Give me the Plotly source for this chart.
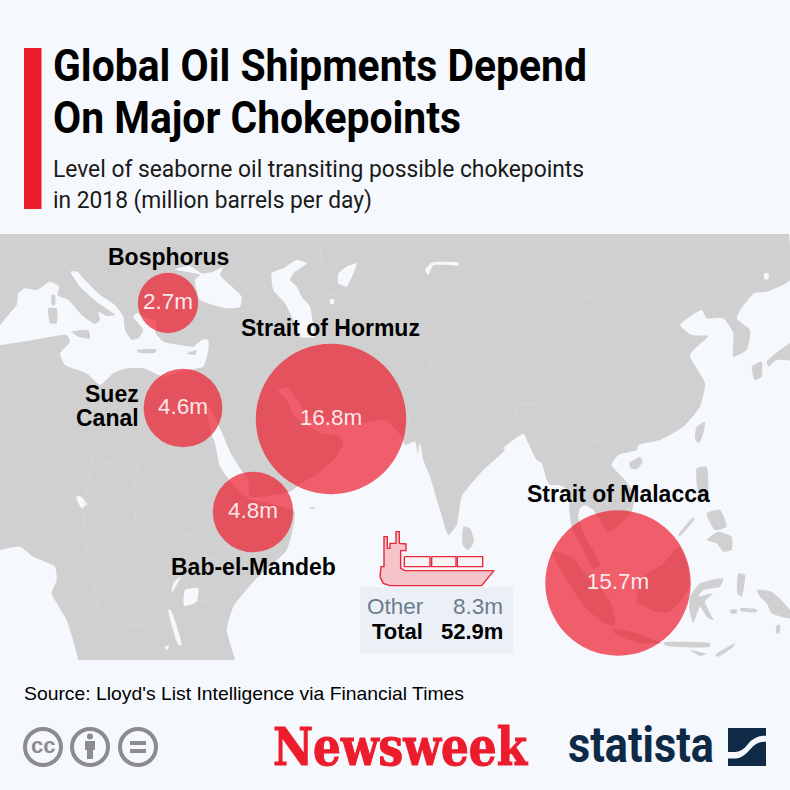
import json

import plotly.graph_objects as go

# data
chokepoints = ["Bosphorus", "Suez Canal", "Strait of Hormuz", "Bab-el-Mandeb", "Strait of Malacca"]
barrels = [2.7, 4.6, 16.8, 4.8, 15.7]
other = 8.3
total = 52.9

# where the bubbles sit on the map, in page pixels
bubble_x = [168, 183, 331, 253, 618]
bubble_y = [303, 408, 419, 512, 583]

BG = "#F5F8FC"
LAND = "#D0D0D0"
BORDER = "#D9D9D9"
RED = "#ED1C2C"
NAVY = "#0F2A47"
GREY = "#8C8C8C"
SANS = "Liberation Sans"
TITLE = "Roboto"

# no condensed Roboto here, so these lines get squeezed to their width in the page
fitted_widths = {
    "Global Oil Shipments Depend": 534,
    "On Major Chokepoints": 408,
    "Level of seaborne oil transiting possible chokepoints": 531,
    "in 2018 (million barrels per day)": 319,
    "Source: Lloyd's List Intelligence via Financial Times": 440,
    "Newsweek": 254,
    "statista": 146,
}


def crop(points, x0, y0):
    # the outlines were traced on 3x crops of the map
    return [(x0 + x / 3, y0 + y / 3) for x, y in points]


def rings(polygons):
    xs, ys = [], []
    for poly in polygons:
        xs += [p[0] for p in poly] + [poly[0][0], None]
        ys += [p[1] for p in poly] + [poly[0][1], None]
    return xs, ys


# background map
ocean = (
    crop([(705, 630), (680, 540), (700, 470), (770, 385), (860, 300)], 0, 450)
    + crop(
        [(268, 515), (190, 490), (135, 478), (100, 450), (70, 415), (45, 380), (30, 310), (18, 280), (5, 200),
         (12, 200), (50, 275), (75, 335), (105, 385), (130, 420), (135, 470), (255, 455), (290, 430), (340, 400),
         (385, 360), (415, 312), (405, 290), (350, 280), (290, 245), (265, 225), (245, 180), (220, 150), (245, 140),
         (290, 200), (320, 240), (400, 245), (470, 250), (540, 240), (590, 290), (600, 315), (630, 305), (638, 340),
         (645, 310), (655, 360)],
        205, 340,
    )
    + crop([(240, 80), (270, 180), (295, 255), (320, 225), (335, 140), (400, 60), (465, 0)], 350, 450)
    + crop([(340, 655), (400, 612), (415, 640), (440, 690)], 390, 230)
    + crop(
        [(35, 100), (50, 150), (60, 165), (85, 165), (115, 180), (118, 240), (125, 290), (150, 340), (190, 418),
         (212, 405), (195, 370), (165, 320), (145, 265), (150, 235), (165, 225), (190, 240), (235, 305), (300, 255),
         (315, 195), (285, 150), (245, 105), (265, 75), (320, 60), (325, 45)],
        530, 430,
    )
    + crop(
        [(810, 630), (880, 590), (930, 530), (945, 460), (900, 375), (955, 318), (905, 315), (870, 285), (935, 240),
         (950, 265), (1000, 265), (1030, 310), (1030, 380), (1070, 360), (1080, 300), (1040, 265), (1090, 190),
         (1130, 185), (1200, 150)],
        390, 230,
    )
    + [(790, 200), (830, 200), (830, 700), (235, 700)]
)
gulf_of_guinea = crop(
    [(-60, 300), (0, 300), (60, 290), (100, 320), (165, 350), (170, 390), (155, 430), (200, 510), (235, 630), (240, 700), (-60, 700)], 0, 450
)
mediterranean = crop(
    [(-60, 300), (0, 285), (20, 260), (50, 225), (55, 190), (75, 175), (110, 180), (150, 155), (178, 170), (172, 195), (205, 210),
     (245, 255), (285, 282), (300, 270), (295, 245), (320, 258), (345, 255), (290, 215), (240, 170), (212, 125),
     (232, 125), (255, 150), (300, 195), (345, 225), (370, 260), (375, 300), (395, 330), (415, 325), (430, 300),
     (400, 260), (410, 250), (440, 265), (470, 275), (465, 305), (490, 335), (540, 345), (580, 350), (605, 330),
     (625, 330), (625, 360), (610, 410), (560, 420), (490, 440), (430, 415), (380, 415), (340, 430), (300, 465),
     (260, 430), (195, 405), (180, 370), (210, 335), (200, 315), (100, 330), (0, 345), (-60, 345)],
    0, 230,
)
black_sea = crop(
    [(585, 150), (600, 135), (525, 118), (570, 108), (605, 130), (640, 125), (670, 110), (660, 135), (690, 165),
     (725, 200), (720, 230), (680, 235), (640, 225), (600, 210), (590, 180)],
    0, 230,
)
caspian = crop(
    [(815, 130), (850, 115), (890, 90), (920, 100), (880, 130), (870, 150), (890, 170), (905, 200), (930, 230),
     (940, 290), (945, 320), (900, 320), (880, 270), (855, 220), (820, 180)],
    0, 230,
)
lakes = [
    crop([(1015, 130), (1040, 110), (1070, 100), (1060, 130), (1040, 170), (1015, 160)], 0, 230),
    crop([(990, 208), (1002, 208), (1002, 222), (990, 222)], 0, 230),
    crop([(105, 120), (125, 98), (205, 98), (205, 106), (130, 106), (115, 135)], 390, 230),
    crop([(1122, 130), (1136, 130), (1134, 148), (1124, 148)], 390, 230),
    crop([(228, 140), (240, 138), (262, 162), (245, 175)], 0, 450),
    crop([(555, 420), (595, 415), (590, 455), (552, 468)], 0, 450),
    crop([(505, 480), (512, 480), (545, 585), (535, 585)], 0, 450),
    crop([(520, 400), (545, 378), (535, 395), (515, 430)], 0, 450),
    crop([(495, 590), (508, 585), (500, 602)], 0, 450),
]
islands = [
    crop([(145, 235), (170, 235), (170, 280), (150, 280)], 0, 230),
    crop([(155, 195), (165, 195), (165, 225), (155, 225)], 0, 230),
    crop([(215, 305), (265, 300), (270, 325), (235, 320)], 0, 230),
    crop([(410, 360), (470, 358), (465, 368), (415, 368)], 0, 230),
    crop([(560, 370), (590, 360), (585, 375)], 0, 230),
    crop([(925, 172), (945, 172), (940, 178)], 0, 450),
    crop([(340, 230), (360, 235), (372, 275), (355, 300), (338, 285)], 350, 450),
    crop([(65, 365), (125, 380), (175, 440), (240, 510), (255, 585), (215, 575), (160, 525), (110, 450)], 530, 430),
    crop([(245, 595), (320, 610), (395, 640), (330, 640), (260, 615)], 530, 430),
    crop([(320, 520), (330, 450), (400, 400), (445, 350), (470, 395), (480, 470), (420, 545), (370, 545), (340, 525)],
         530, 430),
    crop([(480, 500), (510, 460), (580, 445), (570, 470), (520, 480), (505, 500), (550, 490), (525, 515), (550, 570),
          (530, 560), (510, 530), (490, 580), (478, 540)], 530, 430),
    crop([(530, 330), (565, 305), (605, 320), (605, 360), (580, 365), (560, 340)], 530, 430),
    crop([(500, 115), (530, 110), (535, 170), (525, 210), (505, 190)], 530, 430),
    crop([(530, 250), (570, 240), (590, 290), (555, 300)], 530, 430),
    crop([(445, 315), (490, 262), (493, 268), (450, 318)], 530, 430),
    crop([(297, 100), (330, 80), (338, 95), (320, 118), (302, 115)], 530, 430),
    crop([(680, 480), (725, 485), (780, 540), (780, 565), (725, 550), (710, 520), (690, 500)], 530, 430),
    crop([(600, 540), (620, 538), (620, 550), (602, 550)], 530, 430),
    crop([(630, 535), (680, 538), (680, 546), (632, 543)], 530, 430),
    crop([(625, 430), (645, 435), (635, 500), (622, 490)], 530, 430),
    crop([(400, 638), (540, 640), (540, 650), (410, 648)], 530, 430),
    crop([(555, 675), (615, 640), (610, 650), (565, 680)], 530, 430),
    crop([(480, 660), (530, 672), (510, 678)], 530, 430),
    crop([(740, 585), (750, 585), (748, 610), (738, 610)], 530, 430),
    crop([(505, 0), (522, 0), (510, 35)], 530, 430),
    crop([(915, 625), (920, 590), (945, 575), (940, 610), (925, 640)], 390, 230),
    crop([(1085, 410), (1115, 395), (1115, 440), (1095, 450)], 390, 230),
    crop([(1130, 395), (1200, 340), (1230, 340), (1230, 390), (1160, 390), (1135, 410)], 390, 230),
]
borders = [
    crop([(330, 50), (400, 100), (410, 130), (500, 180), (650, 215), (770, 160), (905, 95), (840, 60), (850, 20)], 390, 230),
    crop([(230, 140), (230, 190), (130, 230), (60, 190), (20, 240), (90, 230), (130, 310)], 390, 230),
    crop([(120, 380), (180, 350), (220, 470), (330, 520), (430, 520), (490, 490), (540, 560)], 390, 230),
    crop([(430, 520), (380, 530), (370, 610), (400, 610)], 390, 230),
    crop([(540, 560), (590, 630), (670, 640), (700, 650)], 390, 230),
    crop([(1000, 265), (1040, 250), (1090, 190)], 390, 230),
    crop([(120, 380), (130, 450), (60, 540), (50, 620)], 390, 230),
    crop([(0, 95), (150, 60), (400, 30)], 0, 450),
    crop([(100, 0), (70, 90), (0, 160)], 0, 450),
    crop([(280, 0), (250, 190), (260, 300), (330, 280), (410, 240), (600, 260)], 0, 450),
    crop([(420, 0), (400, 130), (410, 240)], 0, 450),
    crop([(260, 300), (300, 400), (480, 340), (700, 320)], 0, 450),
    crop([(170, 380), (280, 370), (300, 530), (500, 520)], 0, 450),
    crop([(590, 450), (700, 470)], 0, 450),
    crop([(640, 360), (760, 330), (800, 250), (720, 240)], 0, 230),
    crop([(960, 30), (970, 190), (1200, 230)], 0, 230),
    crop([(60, 100), (120, 100), (300, 40)], 0, 230),
]

# ship icon, traced on a 3x crop
ship_hull = crop(
    [(30, 170), (33, 140), (42, 140), (42, 50), (52, 50), (52, 85), (60, 85), (60, 70), (78, 70), (78, 35), (88, 35),
     (88, 70), (108, 72), (108, 92), (92, 92), (92, 145), (105, 152), (372, 152), (335, 197), (60, 197), (40, 190)],
    370, 520,
)
ship_boxes = [
    crop([(103, 110), (180, 110), (180, 140), (103, 140)], 370, 520),
    crop([(185, 110), (258, 110), (258, 140), (185, 140)], 370, 520),
    crop([(262, 110), (338, 110), (338, 140), (262, 140)], 370, 520),
]

fig = go.Figure()

smooth = {"width": 0, "shape": "spline", "smoothing": 0.5}
sea_x, sea_y = rings([ocean, gulf_of_guinea, mediterranean, black_sea, caspian] + lakes)
fig.add_trace(go.Scatter(x=sea_x, y=sea_y, mode="lines", line=smooth, fill="toself", fillcolor=BG))

isl_x, isl_y = rings(islands)
fig.add_trace(go.Scatter(x=isl_x, y=isl_y, mode="lines", line=smooth, fill="toself", fillcolor=LAND))

bor_x, bor_y = [], []
for line in borders:
    bor_x += [p[0] for p in line] + [None]
    bor_y += [p[1] for p in line] + [None]
fig.add_trace(go.Scatter(x=bor_x, y=bor_y, mode="lines", line={"color": BORDER, "width": 0.7}))

# bubble area follows the value
fig.add_trace(
    go.Scatter(
        x=bubble_x,
        y=bubble_y,
        mode="markers+text",
        marker={
            "size": [36.7 * v**0.5 for v in barrels],
            "sizemode": "diameter",
            "color": "rgba(236,28,44,0.7)",
            "opacity": 1,
            "line": {"width": 0},
        },
        text=[f"{v}m" for v in barrels],
        textposition="middle center",
        textfont={"family": SANS, "size": 22.5, "color": "rgba(255,255,255,0.88)"},
    )
)

hull_x, hull_y = rings([ship_hull])
fig.add_trace(
    go.Scatter(x=hull_x, y=hull_y, mode="lines", fill="toself", fillcolor="#F5C3C8", line={"color": "#E8293B", "width": 1.4})
)
box_x, box_y = rings(ship_boxes)
fig.add_trace(
    go.Scatter(x=box_x, y=box_y, mode="lines", fill="toself", fillcolor="#F8F4F6", line={"color": "#E8293B", "width": 1.4})
)

shapes = [
    # map band, the masks keep the sea inside it
    {"type": "rect", "x0": 0, "x1": 790, "y0": 234, "y1": 660, "fillcolor": LAND, "line_width": 0, "layer": "below"},
    {"type": "rect", "x0": 0, "x1": 790, "y0": 660, "y1": 790, "fillcolor": BG, "line_width": 0},
    # title bar
    {"type": "rect", "x0": 24, "x1": 41.5, "y0": 48, "y1": 209, "fillcolor": RED, "line_width": 0},
    # other / total box
    {"type": "rect", "x0": 360, "x1": 513, "y0": 587, "y1": 653, "fillcolor": "#EBF0F7", "line_width": 0},
    # cc icons
    {"type": "circle", "x0": 25, "x1": 61, "y0": 729, "y1": 765, "line": {"color": GREY, "width": 4}},
    {"type": "circle", "x0": 72, "x1": 108, "y0": 729, "y1": 765, "line": {"color": GREY, "width": 4}},
    {"type": "circle", "x0": 120, "x1": 156, "y0": 729, "y1": 765, "line": {"color": GREY, "width": 4}},
    {"type": "circle", "x0": 87, "x1": 93, "y0": 733.5, "y1": 739.5, "fillcolor": GREY, "line_width": 0},
    {"type": "rect", "x0": 85, "x1": 95, "y0": 741, "y1": 750, "fillcolor": GREY, "line_width": 0},
    {"type": "rect", "x0": 87, "x1": 93, "y0": 750, "y1": 759, "fillcolor": GREY, "line_width": 0},
    {"type": "rect", "x0": 130, "x1": 146, "y0": 741, "y1": 745, "fillcolor": GREY, "line_width": 0},
    {"type": "rect", "x0": 130, "x1": 146, "y0": 749, "y1": 753, "fillcolor": GREY, "line_width": 0},
    # statista mark
    {
        "type": "path",
        "path": "M728,728 L766,728 L766,735.7 Q755,735 748,744 Q742,752 735,752 L728,752 Z",
        "fillcolor": NAVY,
        "line_width": 0,
    },
    {
        "type": "path",
        "path": "M766,741.7 Q757,741 751,748.5 Q743,758 736,758.5 L728,758.5 L728,766 L766,766 Z",
        "fillcolor": NAVY,
        "line_width": 0,
    },
]


def label(text, x, y, size, color="#000000", family=SANS, bold=False, anchor="center", align="center"):
    return {
        "text": f"<b>{text}</b>" if bold else text,
        "x": x,
        "y": y,
        "xref": "x",
        "yref": "y",
        "showarrow": False,
        "xanchor": anchor,
        "yanchor": "middle",
        "align": align,
        "font": {"family": family, "size": size, "color": color},
    }


annotations = [
    label("Global Oil Shipments Depend", 51, 65, 45, family=TITLE, bold=True, anchor="left"),
    label("On Major Chokepoints", 51, 117, 45, family=TITLE, bold=True, anchor="left"),
    label("Level of seaborne oil transiting possible chokepoints", 51, 169, 24, "#1A1A1A", TITLE, anchor="left"),
    label("in 2018 (million barrels per day)", 51, 200, 24, "#1A1A1A", TITLE, anchor="left"),
    label("Bosphorus", 168, 257, 23, bold=True),
    label("Strait of Hormuz", 330, 328, 23, bold=True),
    label("Suez", 141, 394, 23, bold=True, anchor="right"),
    label("Canal", 141, 418, 23, bold=True, anchor="right"),
    label("Bab-el-Mandeb", 253, 567, 23, bold=True),
    label("Strait of Malacca", 618, 494, 23, bold=True),
    label("Other", 365, 606, 22.5, "#6B7C8C", anchor="left"),
    label(f"{other}m", 505, 606, 22.5, "#6B7C8C", anchor="right"),
    label("Total", 425, 631, 22, bold=True, anchor="right"),
    label(f"{total}m", 505, 631, 22, bold=True, anchor="right"),
    label("Source: Lloyd's List Intelligence via Financial Times", 22, 693, 19, anchor="left"),
    label("cc", 43, 745, 22, GREY, bold=True),
    label("Newsweek", 271, 746, 52, RED, "DejaVu Serif Condensed", bold=True, anchor="left"),
    label("statista", 566, 745, 50, NAVY, TITLE, bold=True, anchor="left"),
]

fig.update_layout(
    width=790,
    height=790,
    margin={"l": 0, "r": 0, "t": 0, "b": 0},
    paper_bgcolor=BG,
    plot_bgcolor=BG,
    showlegend=False,
    xaxis={"range": [0, 790], "visible": False, "fixedrange": True},
    yaxis={"range": [790, 0], "visible": False, "fixedrange": True},
    shapes=shapes,
    annotations=annotations,
)

squeeze = """
document.body.style.margin = '0';
var widths = %s;
function squeeze() {
  document.querySelectorAll('text.annotation-text').forEach(function (el) {
    var w = widths[el.textContent];
    if (!w || el.getAttribute('textLength')) return;
    var left = el.getBBox().x;
    el.setAttribute('lengthAdjust', 'spacingAndGlyphs');
    el.setAttribute('textLength', w);
    var moved = el.getBBox().x - left;
    el.setAttribute('x', parseFloat(el.getAttribute('x') || 0) - moved);
    if (el.textContent === 'Newsweek') {
      el.style.stroke = '%s';
      el.style.strokeWidth = '1px';
    }
  });
}
squeeze();
setTimeout(squeeze, 50);
""" % (json.dumps(fitted_widths), RED)

fig.write_html("out.html", post_script=squeeze, config={"displayModeBar": False})
